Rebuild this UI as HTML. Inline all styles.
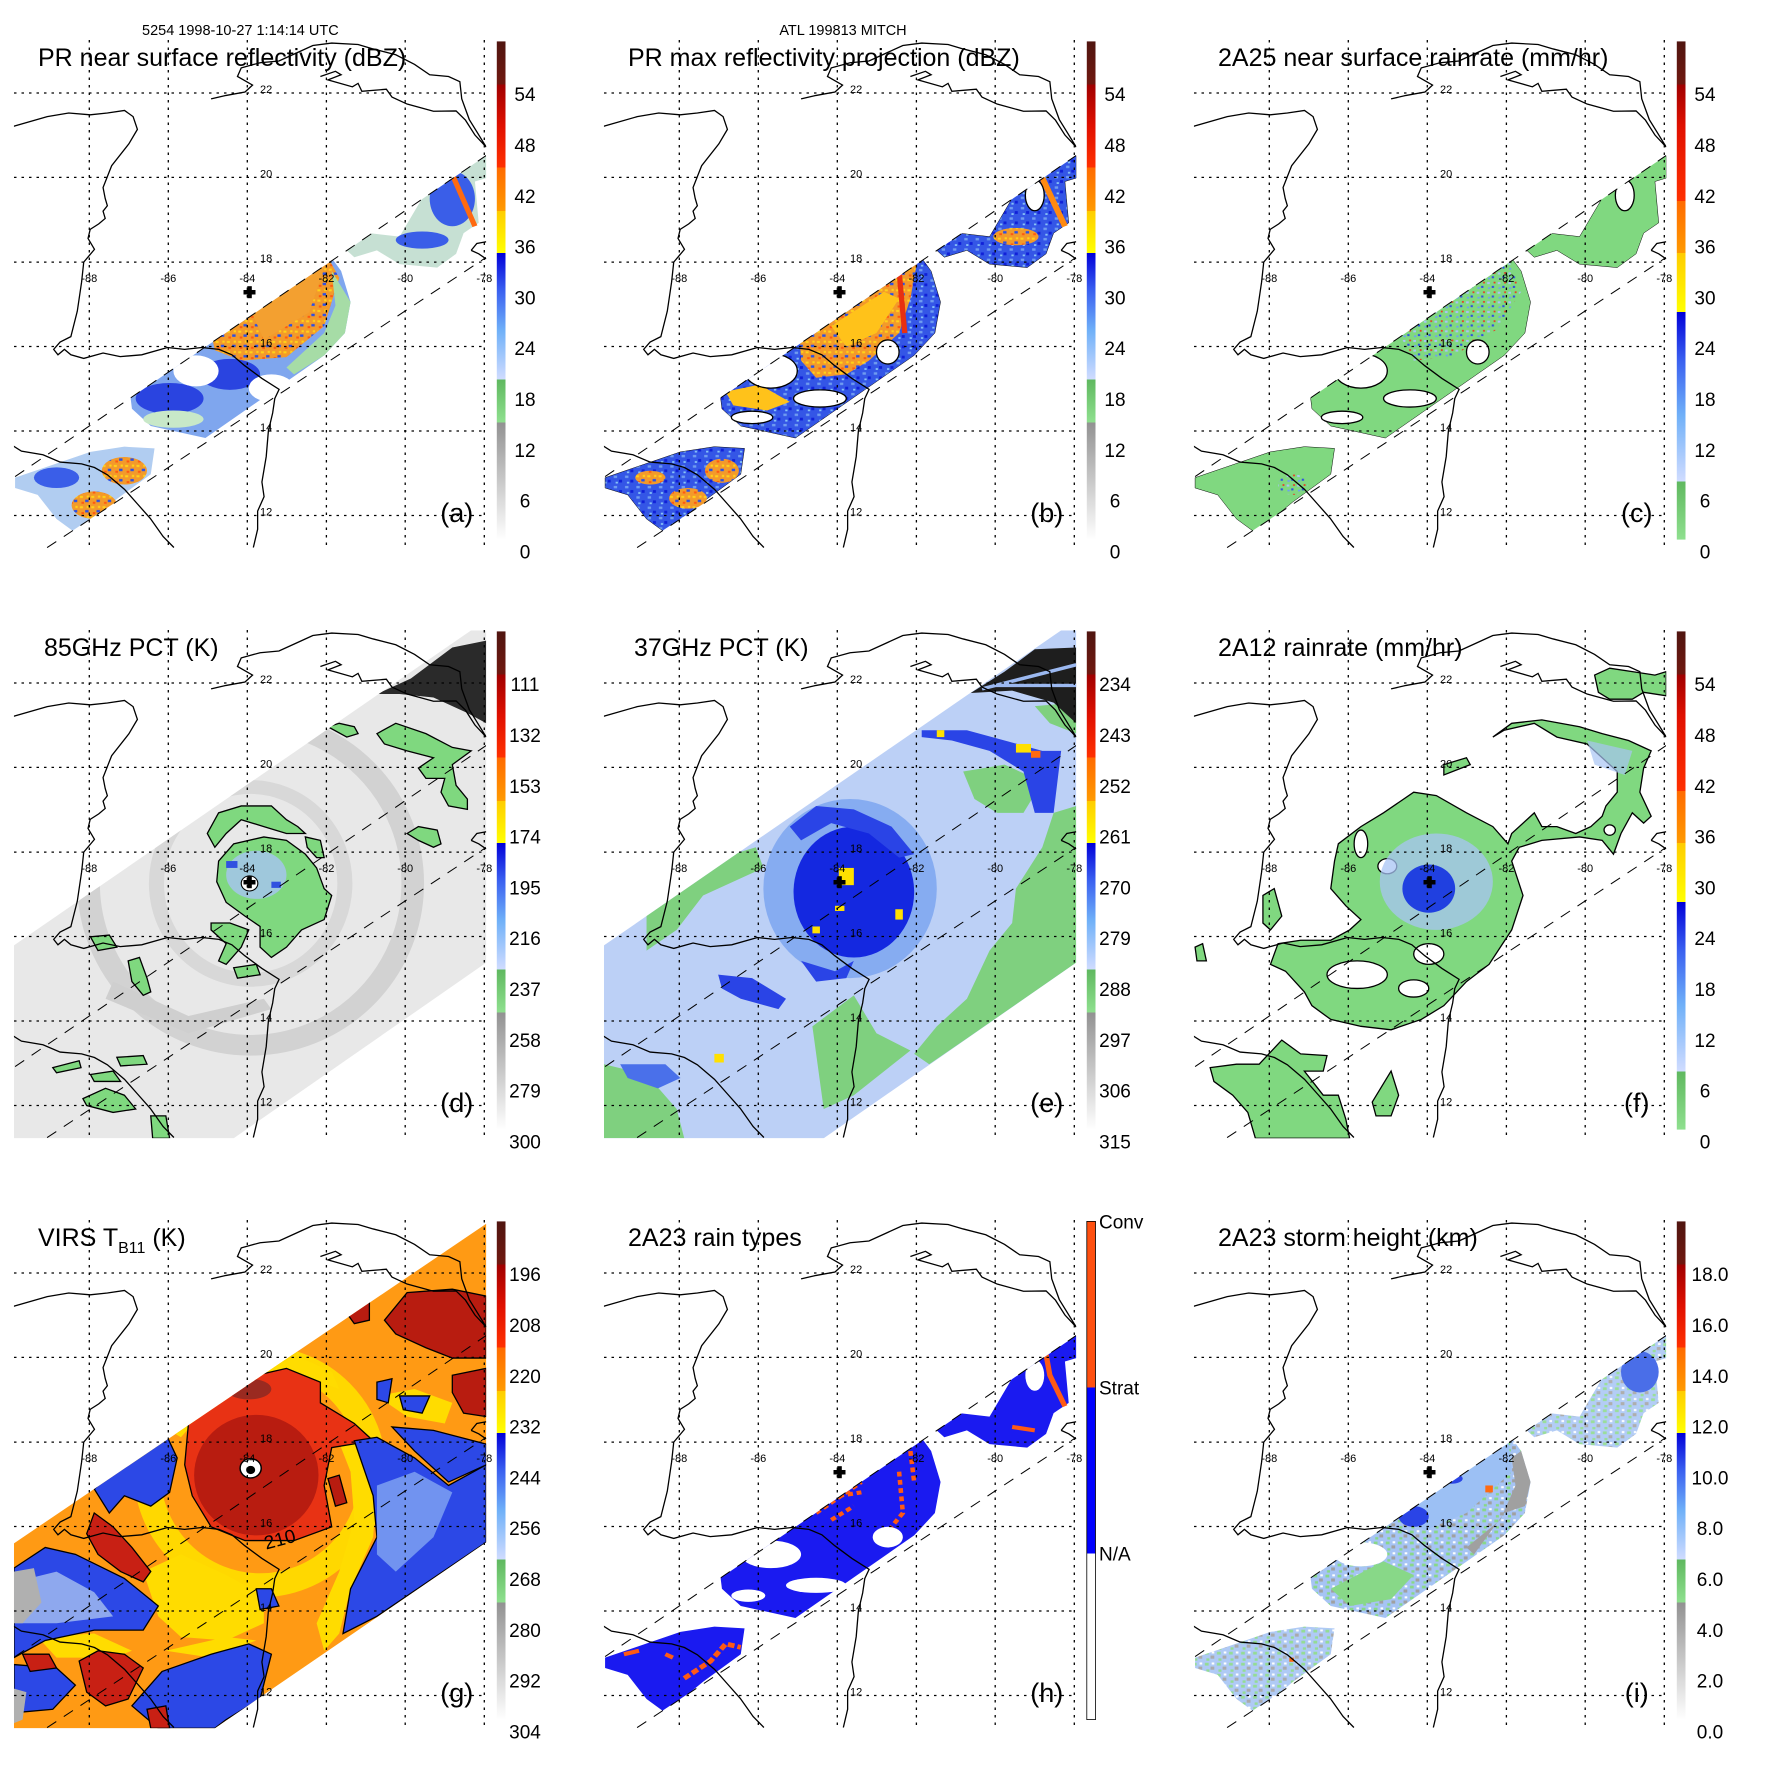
<!DOCTYPE html>
<html><head><meta charset="utf-8"><style>
html,body{margin:0;padding:0;background:#fff}
svg{display:block}
text{font-family:"Liberation Sans",sans-serif;fill:#000}
.ll{font-size:11px}
.cb{font-size:19px}
.tt{font-size:25px}
.pl{font-size:27px}
</style></head><body>
<svg xmlns="http://www.w3.org/2000/svg" width="1771" height="1771" viewBox="0 0 1771 1771">
<defs>
<clipPath id="cm"><rect x="37" y="30" width="1253" height="1475"/></clipPath>
<clipPath id="cpr"><polygon points="0,1327 1400,282 1400,581 0,1593"/></clipPath>
<clipPath id="ctmi"><polygon points="37,945 1250,30 1290,30 1290,995 620,1505 37,1505"/></clipPath>
<clipPath id="cvirs"><polygon points="37,968 1290,40 1290,965 570,1505 37,1505"/></clipPath>
<clipPath id="cloc"><rect x="14" y="10" width="472" height="508"/></clipPath>
<linearGradient id="gR" x1="0" y1="1" x2="0" y2="0">
<stop offset="0" stop-color="#ffffff"/><stop offset="0.235" stop-color="#929292"/>
<stop offset="0.235" stop-color="#8fe08f"/><stop offset="0.321" stop-color="#5fb85f"/>
<stop offset="0.321" stop-color="#d0dcff"/><stop offset="0.42" stop-color="#6fb0f8"/><stop offset="0.5" stop-color="#3a60f0"/><stop offset="0.575" stop-color="#0000d8"/>
<stop offset="0.575" stop-color="#ffff00"/><stop offset="0.66" stop-color="#ffcc00"/>
<stop offset="0.66" stop-color="#ff9a00"/><stop offset="0.747" stop-color="#ff6a00"/>
<stop offset="0.747" stop-color="#ff3000"/><stop offset="0.83" stop-color="#e01000"/><stop offset="0.913" stop-color="#a00000"/>
<stop offset="0.913" stop-color="#701810"/><stop offset="1" stop-color="#501510"/>
</linearGradient>
<linearGradient id="gN" x1="0" y1="1" x2="0" y2="0">
<stop offset="0" stop-color="#8fe08f"/><stop offset="0.117" stop-color="#5fb85f"/>
<stop offset="0.117" stop-color="#d0dcff"/><stop offset="0.25" stop-color="#6fb0f8"/><stop offset="0.36" stop-color="#3a60f0"/><stop offset="0.457" stop-color="#0000d8"/>
<stop offset="0.457" stop-color="#ffff00"/><stop offset="0.575" stop-color="#ffcc00"/>
<stop offset="0.575" stop-color="#ff9a00"/><stop offset="0.68" stop-color="#ff6a00"/>
<stop offset="0.68" stop-color="#ff3000"/><stop offset="0.83" stop-color="#e01000"/><stop offset="0.913" stop-color="#a00000"/>
<stop offset="0.913" stop-color="#701810"/><stop offset="1" stop-color="#501510"/>
</linearGradient>
<linearGradient id="gH" x1="0" y1="1" x2="0" y2="0">
<stop offset="0" stop-color="#ffffff"/><stop offset="0.333" stop-color="#ffffff"/>
<stop offset="0.333" stop-color="#0000ff"/><stop offset="0.667" stop-color="#0000ff"/>
<stop offset="0.667" stop-color="#ff5010"/><stop offset="1" stop-color="#ff5010"/>
</linearGradient>
<pattern id="spkA" width="30" height="30" patternUnits="userSpaceOnUse">
<rect width="30" height="30" fill="#f39a2a"/><rect x="2" y="3" width="8" height="6" fill="#ffd21a"/><rect x="16" y="14" width="9" height="7" fill="#2a4fe6"/><rect x="6" y="20" width="7" height="6" fill="#ff5a10"/><rect x="20" y="2" width="6" height="6" fill="#ffd21a"/>
</pattern>
<pattern id="spkB" width="30" height="30" patternUnits="userSpaceOnUse">
<rect width="30" height="30" fill="#3456e6"/><rect x="3" y="4" width="9" height="7" fill="#6f9cf0"/><rect x="17" y="16" width="8" height="8" fill="#1020d8"/><rect x="8" y="22" width="6" height="5" fill="#8ac8f8"/>
</pattern>
<pattern id="spkC" width="28" height="28" patternUnits="userSpaceOnUse">
<rect width="28" height="28" fill="#80d880"/><rect x="3" y="4" width="7" height="6" fill="#a8c4f8"/><rect x="15" y="15" width="6" height="6" fill="#3050e0"/><rect x="20" y="3" width="5" height="5" fill="#e83a20"/><rect x="5" y="19" width="6" height="5" fill="#6fa0f0"/>
</pattern>
<pattern id="spkI" width="32" height="32" patternUnits="userSpaceOnUse">
<rect width="32" height="32" fill="#a6c4f4"/><rect x="2" y="3" width="10" height="8" fill="#88d888"/><rect x="17" y="14" width="10" height="9" fill="#a0a0a0"/><rect x="6" y="22" width="8" height="7" fill="#88d888"/><rect x="20" y="2" width="7" height="6" fill="#ffffff"/>
</pattern>
<g id="coast" fill="none" stroke="#000" stroke-width="1.3">
<g transform="matrix(1.1391 0 0 1.0559 -216.4 -28.2)">
<path vector-effect="non-scaling-stroke" d="M220,292 L300,265 L350,255 L400,260 L440,255 L480,248 L500,265 L510,300 L490,340 L450,400 L430,460 L435,490 L440,510 L430,525 L435,545 L420,560 L400,575 L395,600 L410,630 L385,665 L380,720 L370,800 L355,870 L330,885 L315,905 L325,920 L340,905 L355,920 L385,930 L430,915 L470,925 L520,920 L580,900 L620,905 L660,900 L700,905 L730,920 L760,950 L800,985 L840,1015 L830,1040 L825,1080 L815,1130 L810,1200 L800,1270 L805,1310 L790,1350 L790,1400 L780,1450"/>
<path vector-effect="non-scaling-stroke" d="M220,1170 L240,1185 L290,1195 L330,1215 L380,1220 L410,1230 L440,1250 L480,1290 L510,1330 L540,1370 L570,1420 L595,1450"/>
</g>
<path vector-effect="non-scaling-stroke" d="M560,200 L600,190 L650,180 L670,160 L630,135 L640,110 L690,95 L740,90 L780,70 L830,45 L880,38 L950,42 L990,55 L1050,72 L1100,100 L1140,130 L1190,135 L1220,150 L1225,200 L1245,260 L1290,340 M850,135 L890,120 L905,130 L870,145 L935,165 L950,155 L960,178 L1025,172 L1040,195 L1080,215 L1150,236 L1210,235 L1235,262 L1260,305 L1290,340 M1250,640 L1265,620 L1290,615 M1250,640 L1270,650 L1290,665"/>
</g>
<path id="prMain" d="M345,1055 L875,655 L905,700 L930,790 L915,880 L860,945 L545,1185 L400,1150 L350,1100 Z"/>
<path id="prNE" d="M910,630 L980,590 L1060,600 L1130,470 L1220,410 L1290,365 L1290,430 L1260,440 L1270,560 L1230,590 L1210,650 L1160,690 L1060,680 L1000,640 L940,660 Z"/>
<path id="prSW" d="M40,1300 L120,1270 L240,1225 L330,1210 L410,1215 L400,1290 L300,1370 L200,1460 L150,1420 L100,1350 L40,1330 Z"/>
<g id="grid" fill="none" stroke="#000" stroke-width="1.3" stroke-dasharray="2.5,5">
<path d="M89.3,10V518M168.3,10V518M247.3,10V518M326.4,10V518M405.2,10V518M484.3,10V518"/>
<path d="M14,63H486M14,147.4H486M14,232.1H486M14,316.5H486M14,401H486M14,485.5H486"/>
</g>
<g id="swd" fill="none" stroke="#000" stroke-width="1" stroke-dasharray="11,9" clip-path="url(#cloc)">
<path d="M15.1,446.6 L487.4,124.7 M47.1,517.6 L487.4,226.6"/>
</g>
<g id="cross" fill="#000"><rect x="243.5" y="260" width="12" height="4.5"/><rect x="247.3" y="256.2" width="4.5" height="12"/></g>
</defs>

<text x="142" y="35" style="font-size:14.5px">5254 1998-10-27 1:14:14 UTC</text>
<text x="843" y="35" style="font-size:14.5px" text-anchor="middle">ATL 199813 MITCH</text>

<!-- PANEL A -->
<g transform="translate(0,30)">
<g transform="scale(0.37693,0.34435)" clip-path="url(#cm)">
<g clip-path="url(#cpr)">
<use href="#prMain" fill="#7fa6ee"/>
<path d="M560,880 L870,660 L900,720 L860,860 L760,950 L640,960 L570,930 Z" fill="url(#spkA)"/>
<path d="M660,800 L870,660 L820,820 L700,900 Z" fill="#f3a030"/>
<ellipse cx="610" cy="1000" rx="80" ry="45" fill="#2a44e0"/>
<ellipse cx="450" cy="1070" rx="90" ry="45" fill="#2a44e0"/>
<ellipse cx="520" cy="990" rx="60" ry="45" fill="#fff"/>
<ellipse cx="720" cy="1040" rx="60" ry="40" fill="#fff"/>
<ellipse cx="460" cy="1130" rx="80" ry="25" fill="#c8e8c8"/>
<path d="M880,700 L930,790 L915,880 L860,945 L780,1000 L760,980 L860,880 L890,800 Z" fill="#a6dca6"/>
<use href="#prNE" fill="#b8d8c8" opacity="0.8"/>
<ellipse cx="1200" cy="490" rx="60" ry="80" fill="#3a5ee8"/>
<ellipse cx="1120" cy="610" rx="70" ry="25" fill="#3a5ee8"/>
<path d="M1200,420 L1260,570" stroke="#ff6a10" stroke-width="14"/>
<use href="#prSW" fill="#a8c8f0" opacity="0.9"/>
<ellipse cx="150" cy="1300" rx="60" ry="30" fill="#3a5ee8"/>
<ellipse cx="330" cy="1280" rx="60" ry="40" fill="url(#spkA)"/>
<ellipse cx="250" cy="1380" rx="60" ry="40" fill="url(#spkA)"/>
</g>
<use href="#coast"/>
</g>
<use href="#grid"/><use href="#swd"/><use href="#cross"/>
<text class="ll" text-anchor="middle" x="89.3" y="252">-88</text><text class="ll" text-anchor="middle" x="168.3" y="252">-86</text><text class="ll" text-anchor="middle" x="247.3" y="252">-84</text><text class="ll" text-anchor="middle" x="326.4" y="252">-82</text><text class="ll" text-anchor="middle" x="405.2" y="252">-80</text><text class="ll" text-anchor="middle" x="484.3" y="252">-78</text>
<text class="ll" x="260" y="63">22</text><text class="ll" x="260" y="147.4">20</text><text class="ll" x="260" y="232.1">18</text><text class="ll" x="260" y="316.5">16</text><text class="ll" x="260" y="401">14</text><text class="ll" x="260" y="485.5">12</text>
<text class="tt" x="38" y="36">PR near surface reflectivity (dBZ)</text>
<text class="pl" x="456.8" y="492" text-anchor="middle">(a)</text>
<rect x="496.8" y="11.4" width="8.7" height="498.2" fill="url(#gR)"/>
<g class="cb" text-anchor="middle"><text x="525" y="71.2">54</text><text x="525" y="122">48</text><text x="525" y="172.8">42</text><text x="525" y="223.6">36</text><text x="525" y="274.4">30</text><text x="525" y="325.2">24</text><text x="525" y="376">18</text><text x="525" y="426.8">12</text><text x="525" y="477.6">6</text><text x="525" y="528.4">0</text></g>
</g>

<!-- PANEL B -->
<g transform="translate(590,30)">
<g transform="scale(0.37693,0.34435)" clip-path="url(#cm)">
<g clip-path="url(#cpr)" stroke="#000" stroke-width="1.3">
<use href="#prMain" fill="url(#spkB)" vector-effect="non-scaling-stroke"/>
<path d="M555,880 L700,780 L870,660 L850,780 L820,880 L740,960 L680,1000 L600,1010 L560,960 Z" fill="url(#spkA)" stroke="none"/>
<path d="M640,860 L780,760 L820,780 L760,880 L680,920 Z" fill="#ffc21a" stroke="none"/>
<path d="M360,1050 L450,1030 L530,1080 L470,1105 L380,1090 Z" fill="#ffc21a" stroke="none"/>
<path d="M820,700 L835,880" stroke="#e83010" stroke-width="14"/>
<ellipse cx="480" cy="990" rx="70" ry="50" fill="#fff" vector-effect="non-scaling-stroke"/>
<ellipse cx="610" cy="1070" rx="70" ry="25" fill="#fff" vector-effect="non-scaling-stroke"/>
<ellipse cx="790" cy="935" rx="30" ry="35" fill="#fff" vector-effect="non-scaling-stroke"/>
<ellipse cx="430" cy="1125" rx="55" ry="18" fill="#fff" vector-effect="non-scaling-stroke"/>
<use href="#prNE" fill="url(#spkB)" vector-effect="non-scaling-stroke"/>
<path d="M1200,430 L1260,570" stroke="#ff8a10" stroke-width="16"/>
<ellipse cx="1130" cy="600" rx="60" ry="25" fill="url(#spkA)" stroke="none"/>
<ellipse cx="1180" cy="480" rx="25" ry="45" fill="#fff" vector-effect="non-scaling-stroke"/>
<use href="#prSW" fill="url(#spkB)" vector-effect="non-scaling-stroke"/>
<ellipse cx="350" cy="1280" rx="45" ry="35" fill="url(#spkA)" stroke="none"/>
<ellipse cx="260" cy="1360" rx="50" ry="30" fill="url(#spkA)" stroke="none"/>
<ellipse cx="160" cy="1300" rx="40" ry="20" fill="url(#spkA)" stroke="none"/>
</g>
<use href="#coast"/>
</g>
<use href="#grid"/><use href="#swd"/><use href="#cross"/>
<text class="ll" text-anchor="middle" x="89.3" y="252">-88</text><text class="ll" text-anchor="middle" x="168.3" y="252">-86</text><text class="ll" text-anchor="middle" x="247.3" y="252">-84</text><text class="ll" text-anchor="middle" x="326.4" y="252">-82</text><text class="ll" text-anchor="middle" x="405.2" y="252">-80</text><text class="ll" text-anchor="middle" x="484.3" y="252">-78</text>
<text class="ll" x="260" y="63">22</text><text class="ll" x="260" y="147.4">20</text><text class="ll" x="260" y="232.1">18</text><text class="ll" x="260" y="316.5">16</text><text class="ll" x="260" y="401">14</text><text class="ll" x="260" y="485.5">12</text>
<text class="tt" x="38" y="36">PR max reflectivity projection (dBZ)</text>
<text class="pl" x="456.8" y="492" text-anchor="middle">(b)</text>
<rect x="496.8" y="11.4" width="8.7" height="498.2" fill="url(#gR)"/>
<g class="cb" text-anchor="middle"><text x="525" y="71.2">54</text><text x="525" y="122">48</text><text x="525" y="172.8">42</text><text x="525" y="223.6">36</text><text x="525" y="274.4">30</text><text x="525" y="325.2">24</text><text x="525" y="376">18</text><text x="525" y="426.8">12</text><text x="525" y="477.6">6</text><text x="525" y="528.4">0</text></g>
</g>

<!-- PANEL C -->
<g transform="translate(1180,30)">
<g transform="scale(0.37693,0.34435)" clip-path="url(#cm)">
<g clip-path="url(#cpr)" stroke="#000" stroke-width="1.3">
<use href="#prMain" fill="#80d880" vector-effect="non-scaling-stroke"/>
<path d="M580,880 L870,660 L905,760 L840,870 L720,950 L620,960 Z" fill="url(#spkC)" stroke="none"/>
<ellipse cx="480" cy="990" rx="70" ry="50" fill="#fff" vector-effect="non-scaling-stroke"/>
<ellipse cx="610" cy="1070" rx="70" ry="25" fill="#fff" vector-effect="non-scaling-stroke"/>
<ellipse cx="790" cy="935" rx="30" ry="35" fill="#fff" vector-effect="non-scaling-stroke"/>
<ellipse cx="430" cy="1125" rx="55" ry="18" fill="#fff" vector-effect="non-scaling-stroke"/>
<use href="#prNE" fill="#80d880" vector-effect="non-scaling-stroke"/>
<ellipse cx="1180" cy="480" rx="25" ry="45" fill="#fff" vector-effect="non-scaling-stroke"/>
<use href="#prSW" fill="#80d880" vector-effect="non-scaling-stroke"/>
<ellipse cx="300" cy="1320" rx="40" ry="30" fill="url(#spkC)" stroke="none"/>
</g>
<use href="#coast"/>
</g>
<use href="#grid"/><use href="#swd"/><use href="#cross"/>
<text class="ll" text-anchor="middle" x="89.3" y="252">-88</text><text class="ll" text-anchor="middle" x="168.3" y="252">-86</text><text class="ll" text-anchor="middle" x="247.3" y="252">-84</text><text class="ll" text-anchor="middle" x="326.4" y="252">-82</text><text class="ll" text-anchor="middle" x="405.2" y="252">-80</text><text class="ll" text-anchor="middle" x="484.3" y="252">-78</text>
<text class="ll" x="260" y="63">22</text><text class="ll" x="260" y="147.4">20</text><text class="ll" x="260" y="232.1">18</text><text class="ll" x="260" y="316.5">16</text><text class="ll" x="260" y="401">14</text><text class="ll" x="260" y="485.5">12</text>
<text class="tt" x="38" y="36">2A25 near surface rainrate (mm/hr)</text>
<text class="pl" x="456.8" y="492" text-anchor="middle">(c)</text>
<rect x="496.8" y="11.4" width="8.7" height="498.2" fill="url(#gN)"/>
<g class="cb" text-anchor="middle"><text x="525" y="71.2">54</text><text x="525" y="122">48</text><text x="525" y="172.8">42</text><text x="525" y="223.6">36</text><text x="525" y="274.4">30</text><text x="525" y="325.2">24</text><text x="525" y="376">18</text><text x="525" y="426.8">12</text><text x="525" y="477.6">6</text><text x="525" y="528.4">0</text></g>
</g>

<!-- PANEL D -->
<g transform="translate(0,620)">
<g transform="scale(0.37693,0.34435)" clip-path="url(#cm)">
<g clip-path="url(#ctmi)">
<rect x="0" y="0" width="1400" height="1600" fill="#e8e8e8"/>
<ellipse cx="665" cy="765" rx="430" ry="470" fill="none" stroke="#d2d2d2" stroke-width="60"/>
<ellipse cx="665" cy="765" rx="250" ry="280" fill="none" stroke="#d8d8d8" stroke-width="40"/>
<path d="M300,1050 L500,1150 L700,1100 L720,1130 L500,1200 L280,1100 Z" fill="#cfcfcf"/>
<path d="M1000,215 L1090,170 L1200,80 L1290,60 L1290,300 L1240,270 L1150,225 L1060,215 Z" fill="#2a2a2a"/>
<g fill="#7fd87f" stroke="#000" stroke-width="1.3">
<path vector-effect="non-scaling-stroke" d="M580,700 L620,650 L700,630 L760,640 L810,680 L840,720 L860,780 L880,800 L860,870 L800,900 L760,950 L720,980 L690,950 L690,890 L650,860 L600,820 L575,760 Z"/>
<path vector-effect="non-scaling-stroke" d="M550,620 L580,560 L640,540 L720,540 L760,580 L790,600 L810,620 L760,620 L700,600 L640,580 L600,620 L570,660 Z"/>
<path vector-effect="non-scaling-stroke" d="M810,630 L850,640 L860,690 L840,690 L815,660 Z"/>
<path vector-effect="non-scaling-stroke" d="M560,880 L610,880 L660,900 L640,950 L600,1000 L580,990 L600,940 L560,900 Z"/>
<path vector-effect="non-scaling-stroke" d="M1000,330 L1050,300 L1130,330 L1200,370 L1250,380 L1200,420 L1210,480 L1240,520 L1240,550 L1190,540 L1170,500 L1180,460 L1130,460 L1110,430 L1150,400 L1080,380 L1020,360 Z"/>
<path vector-effect="non-scaling-stroke" d="M870,310 L900,300 L940,310 L950,330 L920,340 Z"/>
<path vector-effect="non-scaling-stroke" d="M1080,620 L1110,600 L1160,610 L1170,650 L1150,660 L1110,640 Z"/>
<path vector-effect="non-scaling-stroke" d="M340,990 L370,980 L390,1040 L400,1080 L380,1090 L350,1050 Z"/>
<path vector-effect="non-scaling-stroke" d="M240,920 L290,915 L310,950 L260,960 Z"/>
<path vector-effect="non-scaling-stroke" d="M140,1300 L210,1280 L215,1300 L150,1315 Z"/>
<path vector-effect="non-scaling-stroke" d="M240,1320 L300,1310 L320,1340 L250,1340 Z"/>
<path vector-effect="non-scaling-stroke" d="M220,1390 L280,1360 L330,1380 L360,1420 L300,1430 L230,1410 Z"/>
<path vector-effect="non-scaling-stroke" d="M400,1440 L440,1440 L450,1505 L405,1505 Z"/>
<path vector-effect="non-scaling-stroke" d="M310,1270 L380,1265 L390,1290 L320,1295 Z"/>
<path vector-effect="non-scaling-stroke" d="M620,1010 L680,1000 L690,1030 L630,1040 Z"/>
</g>
<ellipse cx="680" cy="740" rx="80" ry="70" fill="#a8c4f4" opacity="0.8"/>
<rect x="600" y="700" width="30" height="20" fill="#3050e0"/><rect x="720" y="760" width="25" height="18" fill="#3050e0"/>
<circle cx="662" cy="765" r="22" fill="#fff" stroke="#000" stroke-width="3"/>
</g>
<use href="#coast"/>
</g>
<use href="#grid"/><use href="#swd"/><use href="#cross"/>
<text class="ll" text-anchor="middle" x="89.3" y="252">-88</text><text class="ll" text-anchor="middle" x="168.3" y="252">-86</text><text class="ll" text-anchor="middle" x="247.3" y="252">-84</text><text class="ll" text-anchor="middle" x="326.4" y="252">-82</text><text class="ll" text-anchor="middle" x="405.2" y="252">-80</text><text class="ll" text-anchor="middle" x="484.3" y="252">-78</text>
<text class="ll" x="260" y="63">22</text><text class="ll" x="260" y="147.4">20</text><text class="ll" x="260" y="232.1">18</text><text class="ll" x="260" y="316.5">16</text><text class="ll" x="260" y="401">14</text><text class="ll" x="260" y="485.5">12</text>
<text class="tt" x="44" y="36">85GHz PCT (K)</text>
<text class="pl" x="456.8" y="492" text-anchor="middle">(d)</text>
<rect x="496.8" y="11.4" width="8.7" height="498.2" fill="url(#gR)"/>
<g class="cb" text-anchor="middle"><text x="525" y="71.2">111</text><text x="525" y="122">132</text><text x="525" y="172.8">153</text><text x="525" y="223.6">174</text><text x="525" y="274.4">195</text><text x="525" y="325.2">216</text><text x="525" y="376">237</text><text x="525" y="426.8">258</text><text x="525" y="477.6">279</text><text x="525" y="528.4">300</text></g>
</g>

<!-- PANEL E -->
<g transform="translate(590,620)">
<g transform="scale(0.37693,0.34435)" clip-path="url(#cm)">
<g clip-path="url(#ctmi)">
<rect x="0" y="0" width="1400" height="1600" fill="#bcd0f6"/>
<g fill="#7fd07f">
<path d="M1290,540 L1290,995 L1000,1215 L900,1290 L860,1260 L920,1180 L1000,1100 L1060,960 L1120,880 L1130,780 L1200,660 L1230,560 Z"/>
<path d="M990,440 L1100,420 L1200,470 L1150,560 L1080,560 L1020,520 Z"/>
<path d="M590,1180 L700,1090 L760,1200 L850,1250 L700,1380 L620,1420 Z"/>
<path d="M37,1290 L150,1320 L230,1420 L250,1505 L37,1505 Z"/>
<path d="M150,850 L230,780 L380,680 L440,660 L460,720 L300,800 L230,900 L150,960 Z"/>
<path d="M1180,250 L1290,240 L1290,330 L1220,300 Z"/>
</g>
<ellipse cx="690" cy="780" rx="230" ry="260" fill="#6f9cf0" opacity="0.7"/>
<ellipse cx="700" cy="790" rx="160" ry="190" fill="#1428e0"/>
<path d="M530,600 L600,540 L700,550 L800,600 L860,680 L820,690 L740,620 L640,590 L560,640 Z" fill="#2a44e6"/>
<path d="M880,320 L1000,320 L1100,350 L1200,380 L1250,380 L1230,560 L1180,560 L1150,440 L1060,380 L960,350 L880,340 Z" fill="#2a44e6"/>
<path d="M340,1030 L430,1040 L520,1100 L500,1130 L400,1100 L350,1070 Z" fill="#2a44e6"/>
<path d="M560,990 L650,1020 L700,990 L680,1040 L600,1050 Z" fill="#2a44e6"/>
<path d="M80,1290 L200,1290 L240,1330 L180,1360 L100,1330 Z" fill="#4a70ea"/>
<path d="M1010,212 L1100,150 L1180,85 L1290,80 L1290,300 L1230,240 L1120,205 Z" fill="#1e1e1e"/>
<path d="M1040,200 L1290,130 M1070,190 L1290,190" stroke="#9bb8f0" stroke-width="10"/>
<g fill="#ffe000"><rect x="660" y="720" width="40" height="50"/><rect x="650" y="830" width="25" height="15"/><rect x="810" y="840" width="20" height="30"/><rect x="1130" y="360" width="40" height="25"/><rect x="920" y="320" width="20" height="20"/><rect x="330" y="1260" width="25" height="25"/><rect x="590" y="890" width="20" height="20"/></g>
<rect x="1170" y="380" width="25" height="20" fill="#ff6a10"/>
</g>
<use href="#coast"/>
</g>
<use href="#grid"/><use href="#swd"/><use href="#cross"/>
<text class="ll" text-anchor="middle" x="89.3" y="252">-88</text><text class="ll" text-anchor="middle" x="168.3" y="252">-86</text><text class="ll" text-anchor="middle" x="247.3" y="252">-84</text><text class="ll" text-anchor="middle" x="326.4" y="252">-82</text><text class="ll" text-anchor="middle" x="405.2" y="252">-80</text><text class="ll" text-anchor="middle" x="484.3" y="252">-78</text>
<text class="ll" x="260" y="63">22</text><text class="ll" x="260" y="147.4">20</text><text class="ll" x="260" y="232.1">18</text><text class="ll" x="260" y="316.5">16</text><text class="ll" x="260" y="401">14</text><text class="ll" x="260" y="485.5">12</text>
<text class="tt" x="44" y="36">37GHz PCT (K)</text>
<text class="pl" x="456.8" y="492" text-anchor="middle">(e)</text>
<rect x="496.8" y="11.4" width="8.7" height="498.2" fill="url(#gR)"/>
<g class="cb" text-anchor="middle"><text x="525" y="71.2">234</text><text x="525" y="122">243</text><text x="525" y="172.8">252</text><text x="525" y="223.6">261</text><text x="525" y="274.4">270</text><text x="525" y="325.2">279</text><text x="525" y="376">288</text><text x="525" y="426.8">297</text><text x="525" y="477.6">306</text><text x="525" y="528.4">315</text></g>
</g>

<!-- PANEL F -->
<g transform="translate(1180,620)">
<g transform="scale(0.37693,0.34435)" clip-path="url(#cm)">
<g fill="#80d880" stroke="#000" stroke-width="1.3">
<path vector-effect="non-scaling-stroke" d="M420,650 L480,600 L540,560 L620,500 L680,510 L760,560 L830,600 L870,650 L880,620 L920,580 L940,560 L960,600 L1000,600 L1050,620 L1090,600 L1120,570 L1130,540 L1160,500 L1160,440 L1120,400 L1080,360 L1000,340 L940,300 L860,320 L830,340 L880,300 L960,290 L1060,310 L1120,330 L1190,350 L1250,380 L1230,430 L1220,500 L1250,570 L1230,590 L1200,560 L1170,620 L1150,680 L1120,640 L1060,630 L960,640 L900,660 L880,700 L910,800 L880,900 L820,1000 L760,1050 L700,1120 L640,1160 L560,1190 L480,1180 L400,1160 L350,1120 L330,1080 L280,1020 L240,1000 L260,940 L320,930 L400,930 L450,900 L480,870 L440,830 L400,780 L410,700 Z"/>
<path vector-effect="non-scaling-stroke" d="M80,1300 L150,1290 L210,1290 L270,1220 L320,1260 L390,1265 L380,1310 L330,1310 L380,1380 L420,1380 L440,1450 L450,1505 L200,1505 L180,1430 L140,1380 L90,1340 Z"/>
<path vector-effect="non-scaling-stroke" d="M510,1400 L560,1310 L580,1380 L560,1440 L520,1440 Z"/>
<path vector-effect="non-scaling-stroke" d="M1100,160 L1140,140 L1200,150 L1260,160 L1290,150 L1290,220 L1230,210 L1200,230 L1140,230 L1110,210 Z"/>
<path vector-effect="non-scaling-stroke" d="M700,420 L760,400 L770,420 L700,450 Z"/>
<path vector-effect="non-scaling-stroke" d="M40,950 L60,940 L70,990 L45,990 Z"/>
<path vector-effect="non-scaling-stroke" d="M220,800 L250,780 L270,860 L240,900 L220,880 Z"/>
</g>
<g fill="#fff" stroke="#000" stroke-width="1.3">
<ellipse vector-effect="non-scaling-stroke" cx="470" cy="1030" rx="80" ry="40"/>
<ellipse vector-effect="non-scaling-stroke" cx="620" cy="1070" rx="40" ry="25"/>
<ellipse vector-effect="non-scaling-stroke" cx="660" cy="970" rx="40" ry="30"/>
<ellipse vector-effect="non-scaling-stroke" cx="550" cy="715" rx="25" ry="22"/>
<ellipse vector-effect="non-scaling-stroke" cx="480" cy="650" rx="18" ry="40"/>
<ellipse vector-effect="non-scaling-stroke" cx="1140" cy="610" rx="15" ry="15"/>
</g>
<ellipse cx="680" cy="760" rx="150" ry="140" fill="#a8c4f4" opacity="0.75"/>
<ellipse cx="660" cy="780" rx="70" ry="70" fill="#2040e0"/>
<path d="M1080,350 L1200,380 L1180,450 L1100,420 Z" fill="#a8c4f4" opacity="0.7"/>
<use href="#coast"/>
</g>
<use href="#grid"/><use href="#swd"/><use href="#cross"/>
<text class="ll" text-anchor="middle" x="89.3" y="252">-88</text><text class="ll" text-anchor="middle" x="168.3" y="252">-86</text><text class="ll" text-anchor="middle" x="247.3" y="252">-84</text><text class="ll" text-anchor="middle" x="326.4" y="252">-82</text><text class="ll" text-anchor="middle" x="405.2" y="252">-80</text><text class="ll" text-anchor="middle" x="484.3" y="252">-78</text>
<text class="ll" x="260" y="63">22</text><text class="ll" x="260" y="147.4">20</text><text class="ll" x="260" y="232.1">18</text><text class="ll" x="260" y="316.5">16</text><text class="ll" x="260" y="401">14</text><text class="ll" x="260" y="485.5">12</text>
<text class="tt" x="38" y="36">2A12 rainrate (mm/hr)</text>
<text class="pl" x="456.8" y="492" text-anchor="middle">(f)</text>
<rect x="496.8" y="11.4" width="8.7" height="498.2" fill="url(#gN)"/>
<g class="cb" text-anchor="middle"><text x="525" y="71.2">54</text><text x="525" y="122">48</text><text x="525" y="172.8">42</text><text x="525" y="223.6">36</text><text x="525" y="274.4">30</text><text x="525" y="325.2">24</text><text x="525" y="376">18</text><text x="525" y="426.8">12</text><text x="525" y="477.6">6</text><text x="525" y="528.4">0</text></g>
</g>

<!-- PANEL G -->
<g transform="translate(0,1210)">
<g transform="scale(0.37693,0.34435)" clip-path="url(#cm)">
<g clip-path="url(#cvirs)">
<rect x="0" y="0" width="1400" height="1600" fill="#ff9a14"/>
<ellipse cx="690" cy="760" rx="300" ry="330" fill="none" stroke="#ffd800" stroke-width="70"/>
<g fill="#ffdc00">
<path d="M420,620 L560,520 L700,440 L800,430 L880,470 L900,520 L800,480 L680,480 L560,560 L480,660 Z"/>
<path d="M880,620 L960,680 L1000,800 L990,950 L930,1100 L900,1230 L860,1280 L840,1200 L900,1050 L940,900 L930,760 Z"/>
<path d="M380,1050 L480,1000 L600,1060 L700,1120 L700,1200 L600,1250 L480,1240 L420,1180 Z"/>
<path d="M1000,540 L1100,520 L1200,560 L1180,620 L1080,600 Z"/>
<path d="M700,180 L850,110 L1000,150 L1050,200 L900,220 L800,250 Z"/>
<path d="M100,1240 L250,1230 L350,1280 L300,1300 L150,1300 Z"/>
<path d="M440,1280 L600,1240 L680,1250 L560,1300 Z"/>
</g>
<path d="M500,620 L560,540 L640,490 L760,460 L850,500 L850,560 L940,620 L990,670 L880,690 L860,800 L880,920 L780,960 L650,960 L560,920 L510,830 L490,740 Z" fill="#e83214" stroke="#000" stroke-width="1.3" vector-effect="non-scaling-stroke"/>
<ellipse cx="680" cy="770" rx="165" ry="175" fill="#b81c10"/>
<ellipse cx="660" cy="520" rx="60" ry="30" fill="#9a2a20"/>
<g fill="#b81c10" stroke="#000" stroke-width="1.3">
<path vector-effect="non-scaling-stroke" d="M1020,320 L1080,240 L1200,230 L1290,250 L1290,430 L1200,430 L1130,400 L1050,360 Z"/>
<path vector-effect="non-scaling-stroke" d="M1200,480 L1290,460 L1290,600 L1230,590 L1200,530 Z"/>
<path vector-effect="non-scaling-stroke" d="M920,300 L980,260 L980,320 L940,330 Z"/>
<path vector-effect="non-scaling-stroke" d="M870,780 L900,770 L920,850 L890,860 Z"/>
</g>
<g fill="#2c48e6" stroke="#000" stroke-width="1.3">
<path vector-effect="non-scaling-stroke" d="M940,670 L1000,660 L1100,720 L1190,800 L1290,740 L1290,965 L1000,1180 L910,1230 L930,1100 L1000,950 L990,830 Z"/>
<path vector-effect="non-scaling-stroke" d="M1040,630 L1150,640 L1290,680 L1290,740 L1190,790 L1100,700 Z"/>
<path vector-effect="non-scaling-stroke" d="M250,810 L330,730 L440,650 L470,720 L450,820 L400,860 L330,830 L290,880 Z"/>
<path vector-effect="non-scaling-stroke" d="M37,1040 L120,980 L200,1000 L330,1070 L420,1150 L380,1220 L250,1220 L120,1250 L37,1300 Z"/>
<path vector-effect="non-scaling-stroke" d="M430,1340 L560,1290 L660,1260 L720,1290 L690,1420 L600,1480 L570,1505 L420,1505 L350,1440 Z"/>
<path vector-effect="non-scaling-stroke" d="M37,1320 L150,1330 L200,1380 L140,1450 L37,1460 Z"/>
<path vector-effect="non-scaling-stroke" d="M680,1100 L720,1100 L740,1150 L690,1160 Z"/>
<path vector-effect="non-scaling-stroke" d="M1000,500 L1040,490 L1030,560 L1000,550 Z"/>
<path vector-effect="non-scaling-stroke" d="M1060,540 L1140,540 L1120,590 L1070,580 Z"/>
</g>
<path d="M1000,800 L1100,760 L1200,820 L1150,950 L1050,1050 L1000,1000 Z" fill="#8fb4f4" opacity="0.7"/>
<path d="M40,1080 L150,1050 L250,1110 L300,1180 L150,1200 L40,1200 Z" fill="#a8c0f0" opacity="0.8"/>
<path d="M37,1050 L90,1040 L110,1140 L60,1200 L37,1200 Z" fill="#b0b0b0"/>
<path d="M37,1390 L70,1400 L60,1480 L37,1490 Z" fill="#b0b0b0"/>
<g fill="#c82014" stroke="#000" stroke-width="1.3">
<path vector-effect="non-scaling-stroke" d="M210,1310 L260,1280 L330,1290 L380,1330 L340,1420 L280,1440 L230,1400 Z"/>
<path vector-effect="non-scaling-stroke" d="M250,880 L300,920 L350,980 L400,1050 L380,1080 L320,1050 L260,1000 L230,940 Z"/>
<path vector-effect="non-scaling-stroke" d="M60,1290 L130,1290 L150,1330 L80,1340 Z"/>
<path vector-effect="non-scaling-stroke" d="M390,1450 L440,1440 L450,1505 L400,1505 Z"/>
</g>
<circle cx="665" cy="750" r="28" fill="#fff" stroke="#000" stroke-width="4"/>
<circle cx="665" cy="755" r="12" fill="#000"/>
</g>
<use href="#coast"/>
</g>
<use href="#grid"/><use href="#swd"/>
<text class="ll" text-anchor="middle" x="89.3" y="252">-88</text><text class="ll" text-anchor="middle" x="168.3" y="252">-86</text><text class="ll" text-anchor="middle" x="247.3" y="252">-84</text><text class="ll" text-anchor="middle" x="326.4" y="252">-82</text><text class="ll" text-anchor="middle" x="405.2" y="252">-80</text><text class="ll" text-anchor="middle" x="484.3" y="252">-78</text>
<text class="ll" x="260" y="63">22</text><text class="ll" x="260" y="147.4">20</text><text class="ll" x="260" y="232.1">18</text><text class="ll" x="260" y="316.5">16</text><text class="ll" x="260" y="401">14</text><text class="ll" x="260" y="485.5">12</text>
<text x="264" y="337" style="font-size:19px" transform="rotate(-15 275 330)">210</text>
<text class="tt" x="38" y="36">VIRS T<tspan style="font-size:16px" dy="7">B11</tspan><tspan dy="-7"> (K)</tspan></text>
<text class="pl" x="456.8" y="492" text-anchor="middle">(g)</text>
<rect x="496.8" y="11.4" width="8.7" height="498.2" fill="url(#gR)"/>
<g class="cb" text-anchor="middle"><text x="525" y="71.2">196</text><text x="525" y="122">208</text><text x="525" y="172.8">220</text><text x="525" y="223.6">232</text><text x="525" y="274.4">244</text><text x="525" y="325.2">256</text><text x="525" y="376">268</text><text x="525" y="426.8">280</text><text x="525" y="477.6">292</text><text x="525" y="528.4">304</text></g>
</g>

<!-- PANEL H -->
<g transform="translate(590,1210)">
<g transform="scale(0.37693,0.34435)" clip-path="url(#cm)">
<g clip-path="url(#cpr)">
<use href="#prMain" fill="#1a1af0"/>
<ellipse cx="480" cy="1000" rx="80" ry="40" fill="#fff"/>
<ellipse cx="600" cy="1090" rx="80" ry="22" fill="#fff"/>
<ellipse cx="790" cy="950" rx="40" ry="30" fill="#fff"/>
<ellipse cx="420" cy="1120" rx="45" ry="18" fill="#fff"/>
<g stroke="#ff5a14" stroke-width="12" stroke-dasharray="14,10" fill="none">
<path d="M600,880 L720,790"/><path d="M640,900 L700,860"/><path d="M820,760 L830,880 L800,920"/><path d="M850,700 L860,790"/><path d="M660,830 L720,820"/>
</g>
<use href="#prNE" fill="#1a1af0"/>
<ellipse cx="1180" cy="480" rx="25" ry="45" fill="#fff"/>
<path d="M1210,420 L1220,480 L1260,570" stroke="#ff5a14" stroke-width="14" fill="none"/>
<path d="M1120,630 L1180,640" stroke="#ff5a14" stroke-width="12"/>
<use href="#prSW" fill="#1a1af0"/>
<path d="M250,1360 L320,1310 L360,1260 L400,1270" stroke="#ff5a14" stroke-width="14" fill="none" stroke-dasharray="18,8"/>
<path d="M90,1290 L130,1280 M200,1290 L220,1300" stroke="#ff5a14" stroke-width="12"/>
</g>
<use href="#coast"/>
</g>
<use href="#grid"/><use href="#swd"/><use href="#cross"/>
<text class="ll" text-anchor="middle" x="89.3" y="252">-88</text><text class="ll" text-anchor="middle" x="168.3" y="252">-86</text><text class="ll" text-anchor="middle" x="247.3" y="252">-84</text><text class="ll" text-anchor="middle" x="326.4" y="252">-82</text><text class="ll" text-anchor="middle" x="405.2" y="252">-80</text><text class="ll" text-anchor="middle" x="484.3" y="252">-78</text>
<text class="ll" x="260" y="63">22</text><text class="ll" x="260" y="147.4">20</text><text class="ll" x="260" y="232.1">18</text><text class="ll" x="260" y="316.5">16</text><text class="ll" x="260" y="401">14</text><text class="ll" x="260" y="485.5">12</text>
<text class="tt" x="38" y="36">2A23 rain types</text>
<text class="pl" x="456.8" y="492" text-anchor="middle">(h)</text>
<rect x="496.8" y="11.4" width="8.7" height="498.2" fill="url(#gH)" stroke="#000" stroke-width="0.8"/>
<g class="cb"><text x="509" y="18.4">Conv</text><text x="509" y="184.5">Strat</text><text x="509" y="350.5">N/A</text></g>
</g>

<!-- PANEL I -->
<g transform="translate(1180,1210)">
<g transform="scale(0.37693,0.34435)" clip-path="url(#cm)">
<g clip-path="url(#cpr)">
<use href="#prMain" fill="url(#spkI)"/>
<path d="M560,880 L870,660 L880,760 L760,880 L650,930 Z" fill="#9cc0f4"/>
<ellipse cx="620" cy="890" rx="40" ry="30" fill="#2a44e6"/>
<ellipse cx="720" cy="780" rx="30" ry="15" fill="#2a44e6"/>
<rect x="810" y="800" width="20" height="20" fill="#ff6a10"/>
<path d="M860,880 L915,860 L930,790 L905,700 L880,720 L890,800 L850,900 L760,980 L780,1000 Z" fill="#a0a0a0"/>
<path d="M400,1100 L540,1020 L620,1060 L560,1130 L450,1150 Z" fill="#88d888"/>
<ellipse cx="480" cy="1000" rx="70" ry="35" fill="#fff"/>
<use href="#prNE" fill="url(#spkI)" opacity="0.85"/>
<ellipse cx="1220" cy="470" rx="50" ry="60" fill="#4a6ee8"/>
<use href="#prSW" fill="url(#spkI)" opacity="0.9"/>
<rect x="290" y="1300" width="12" height="12" fill="#ff6a10"/>
</g>
<use href="#coast"/>
</g>
<use href="#grid"/><use href="#swd"/><use href="#cross"/>
<text class="ll" text-anchor="middle" x="89.3" y="252">-88</text><text class="ll" text-anchor="middle" x="168.3" y="252">-86</text><text class="ll" text-anchor="middle" x="247.3" y="252">-84</text><text class="ll" text-anchor="middle" x="326.4" y="252">-82</text><text class="ll" text-anchor="middle" x="405.2" y="252">-80</text><text class="ll" text-anchor="middle" x="484.3" y="252">-78</text>
<text class="ll" x="260" y="63">22</text><text class="ll" x="260" y="147.4">20</text><text class="ll" x="260" y="232.1">18</text><text class="ll" x="260" y="316.5">16</text><text class="ll" x="260" y="401">14</text><text class="ll" x="260" y="485.5">12</text>
<text class="tt" x="38" y="36">2A23 storm height (km)</text>
<text class="pl" x="456.8" y="492" text-anchor="middle">(i)</text>
<rect x="496.8" y="11.4" width="8.7" height="498.2" fill="url(#gR)"/>
<g class="cb" text-anchor="middle"><text x="530" y="71.2">18.0</text><text x="530" y="122">16.0</text><text x="530" y="172.8">14.0</text><text x="530" y="223.6">12.0</text><text x="530" y="274.4">10.0</text><text x="530" y="325.2">8.0</text><text x="530" y="376">6.0</text><text x="530" y="426.8">4.0</text><text x="530" y="477.6">2.0</text><text x="530" y="528.4">0.0</text></g>
</g>
</svg>
</body></html>
